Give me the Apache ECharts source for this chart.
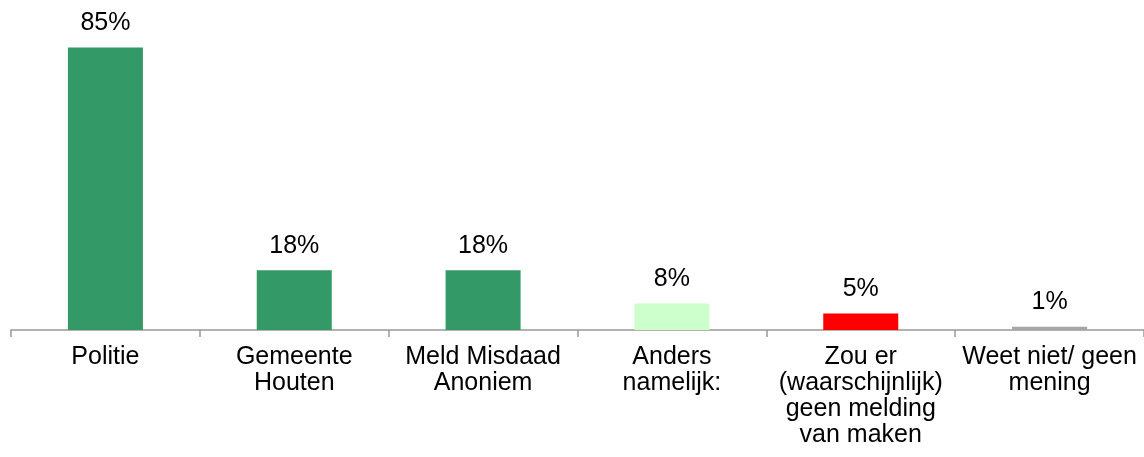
<!DOCTYPE html>
<html>
<head>
<meta charset="utf-8">
<script src="https://cdn.jsdelivr.net/npm/echarts@6/dist/echarts.min.js"></script>
<style>
  html, body { margin: 0; padding: 0; background: #fff; }
  #main { width: 1144px; height: 457px; }
</style>
</head>
<body>
<div id="main"></div>
<script>
// categorieën en percentages
var categories = [
  'Politie',
  'Gemeente\nHouten',
  'Meld Misdaad\nAnoniem',
  'Anders\nnamelijk:',
  'Zou er\n(waarschijnlijk)\ngeen melding\nvan maken',
  'Weet niet/ geen\nmening'
]
var values = [85, 18, 18, 8, 5, 1]
var barColors = ['#339966', '#339966', '#339966', '#CCFFCC', '#FF0000', '#A6A6A6']

var myChart = echarts.init(document.getElementById('main'))

var options = {
  animation: false,
  textStyle: { fontFamily: 'Liberation Sans, Arial, sans-serif' },
  grid: {
    left: 11,
    right: -2,
    top: 31,
    bottom: 127
  },
  xAxis: {
    type: 'category',
    data: categories,
    axisLine: { lineStyle: { color: '#999999', width: 1.5 } },
    axisTick: { show: true, length: 7, lineStyle: { color: '#999999', width: 1.5 } },
    axisLabel: {
      color: '#000',
      fontSize: 25,
      lineHeight: 26,
      margin: 14,
      interval: 0
    }
  },
  yAxis: {
    type: 'value',
    min: 0,
    max: 90,
    show: false
  },
  series: [
    {
      type: 'bar',
      barWidth: 75,
      data: values.map(function (v, i) {
        return { value: v, itemStyle: { color: barColors[i] } }
      }),
      label: {
        show: true,
        position: 'top',
        distance: 12,
        color: '#000',
        fontSize: 25,
        formatter: '{c}%'
      }
    }
  ]
}

myChart.setOption(options)
</script>
</body>
</html>
